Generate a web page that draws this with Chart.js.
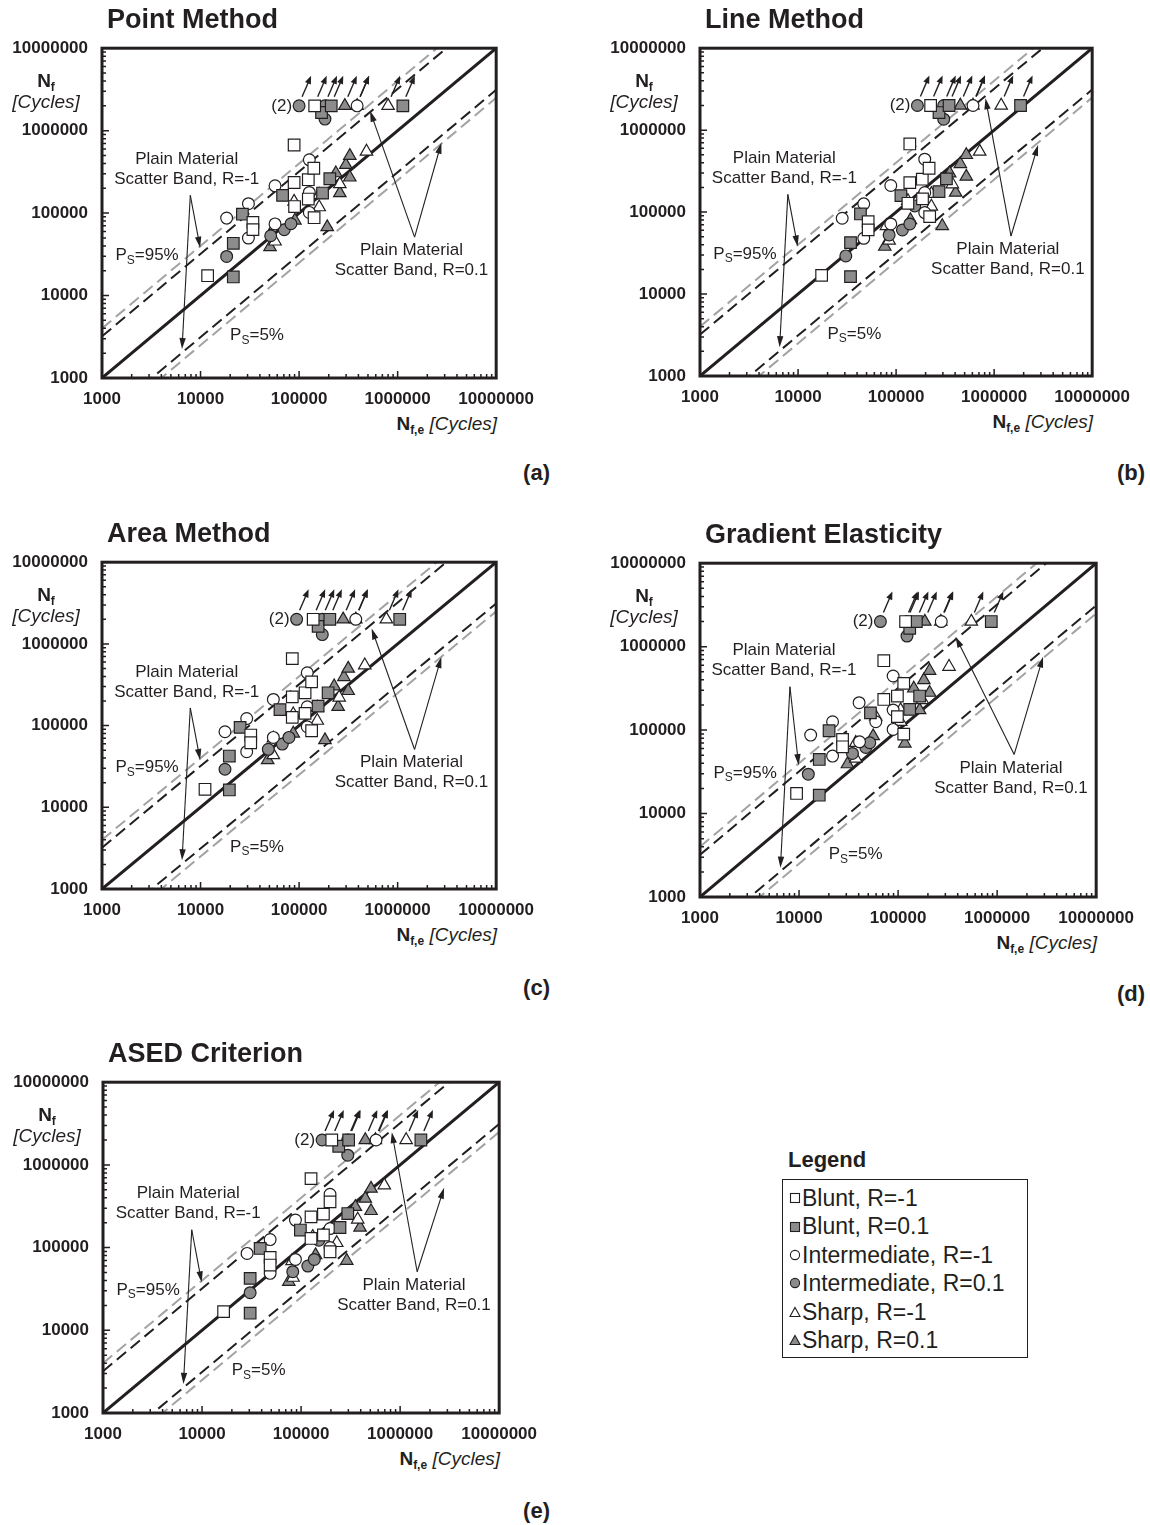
<!DOCTYPE html>
<html lang="en">
<head>
<meta charset="UTF-8">
<title>Estimated vs experimental fatigue life</title>
<script src="https://cdn.jsdelivr.net/npm/chart.js"></script>
<style>
  body { margin: 0; background: #fff; font-family: Arial, "Liberation Sans", sans-serif; color: #231f20; }
  #page { position: relative; width: 1150px; height: 1525px; overflow: hidden; }
  canvas { position: absolute; }
  .ptitle { position: absolute; font-weight: bold; font-size: 27px; line-height: 27px; white-space: nowrap; }
  .ytitle { position: absolute; width: 100px; text-align: center; font-size: 19px; line-height: 21px; }
  .xtitle { position: absolute; width: 200px; text-align: right; font-size: 19px; line-height: 21px; }
  .ytitle b, .xtitle b { font-weight: bold; }
  .ytitle i, .xtitle i { font-style: italic; }
  sub { font-size: 12px; font-weight: bold; vertical-align: -4px; line-height: 0; }
  .tag { position: absolute; width: 60px; text-align: right; font-weight: bold; font-size: 22px; line-height: 22px; }
  #legendTitle { position: absolute; left: 788px; top: 1148px; font-weight: bold; font-size: 22px; line-height: 24px; }
  #legendBox { position: absolute; left: 782px; top: 1179px; width: 246px; height: 179px; border: 1.5px solid #231f20; padding-top: 4px; box-sizing: border-box; }
  .lrow { height: 28.4px; line-height: 28.4px; font-size: 23px; white-space: nowrap; display: flex; align-items: center; }
  .lrow svg { margin-left: 6px; margin-right: 1px; }
</style>
</head>
<body>
<div id="page"></div>

<script>
// ---- data: [estimated life N_f,e, experimental life N_f] ----
const RUNOUT_NF = 2000000;

// (a) Point Method
const pmBluntM1 = [[11800,17400],[34000,77000],[34000,63000],[89000,670000],[89000,235000],[124000,254000],[141000,350000],[124000,148000],[142000,88000],[90000,120000],[144000,2000000]];
const pmBluntP1 = [[26600,97000],[21500,43000],[21500,16800],[68000,164000],[205000,261000],[173000,175000],[169000,1660000],[212000,2000000],[1130000,2000000]];
const pmInterM1 = [[18400,87000],[30600,130000],[30600,49800],[57000,214000],[127000,443000],[127000,178000],[127000,102000],[57000,74000],[388000,2000000]];
const pmInterP1 = [[18400,29800],[51500,53100],[70700,62800],[82700,74300],[183000,1380000],[100000,2000000],[183000,2000000]];
const pmSharpM1 = [[57000,70000],[57000,45400],[89000,138000],[160000,118000],[160000,167000],[259000,225000],[483000,559000],[388000,2000000],[800000,2000000]];
const pmSharpP1 = [[50700,38700],[90700,81500],[193000,67600],[236000,305000],[259000,175000],[298000,385000],[327000,495000],[327000,271000],[291000,2000000]];

// (b) Line Method
const lmBluntM1 = [[17400,16900],[51900,76600],[51900,60600],[138000,679000],[138000,229000],[185000,252000],[217000,343000],[132000,128000],[186000,145000],[220000,88000],[225000,2000000]];
const lmBluntP1 = [[43300,94900],[34300,42400],[34300,16300],[112000,159000],[326000,254000],[274000,178000],[274000,1640000],[347000,2000000],[1860000,2000000]];
const lmInterM1 = [[28200,84100],[46800,126000],[46800,47900],[88300,211000],[196000,442000],[196000,173000],[196000,98600],[88300,71700],[609000,2000000]];
const lmInterP1 = [[30700,29200],[84900,52600],[116000,60600],[138000,71700],[155000,119000],[306000,1360000],[165000,2000000],[306000,2000000]];
const lmSharpM1 = [[79700,67800],[84900,44900],[132000,137000],[229000,117000],[229000,167000],[375000,219000],[712000,548000],[609000,2000000],[1180000,2000000]];
const lmSharpP1 = [[76700,37900],[140000,80200],[296000,67800],[352000,298000],[405000,173000],[452000,387000],[520000,499000],[520000,271000],[452000,2000000]];

// (c) Area Method
const amBluntM1 = [[11100,16600],[32300,76600],[32300,61700],[85300,661000],[85300,225000],[115000,252000],[134000,343000],[115000,141000],[134000,86500],[85300,126000],[139000,2000000]];
const amBluntP1 = [[25200,95000],[19600,42400],[19600,16300],[64000,157000],[197000,252000],[156000,173000],[156000,1640000],[205000,2000000],[1050000,2000000]];
const amInterM1 = [[17700,84100],[29400,122000],[29400,48000],[54800,209000],[121000,442000],[121000,170000],[121000,96800],[54800,71700],[376000,2000000]];
const amInterP1 = [[17700,29200],[48700,51200],[67600,59400],[78900,71700],[172000,1300000],[94400,2000000],[172000,2000000]];
const amSharpM1 = [[54800,69700],[54800,43600],[87300,138000],[153000,115000],[153000,167000],[255000,221000],[464000,548000],[376000,2000000],[769000,2000000]];
const amSharpP1 = [[48000,37900],[87300,80200],[183000,66500],[227000,303000],[249000,170000],[285000,394000],[315000,499000],[315000,266000],[280000,2000000]];

// (d) Gradient Elasticity
const geBluntM1 = [[9440,17400],[27500,77300],[27500,63100],[71700,679000],[71700,233000],[98400,256000],[114000,363000],[98400,145000],[114000,89500],[119000,2000000]];
const geBluntP1 = [[20100,98200],[16000,44500],[16000,16600],[52600,161000],[165000,256000],[131000,177000],[131000,1660000],[153000,2000000],[873000,2000000]];
const geInterM1 = [[13100,87100],[21800,126000],[21800,48800],[40400,213000],[89100,445000],[89100,174000],[89100,102000],[40800,72400],[59500,126000],[273000,2000000]];
const geInterP1 = [[12400,29600],[34600,52500],[47200,61900],[51800,70500],[123000,1340000],[66300,2000000],[123000,2000000]];
const geSharpM1 = [[37400,70500],[37400,45700],[59500,145000],[106000,126000],[106000,174000],[176000,229000],[327000,575000],[270000,2000000],[549000,2000000]];
const geSharpP1 = [[30800,39100],[56000,84700],[117000,69200],[144000,316000],[165000,174000],[182000,398000],[208000,515000],[208000,281000],[186000,2000000]];

// (e) ASED Criterion
const asBluntM1 = [[16500,16800],[48700,76100],[48700,61500],[126000,683000],[126000,235000],[168000,254000],[196000,357000],[168000,142000],[196000,89100],[126000,129000],[204000,2000000]];
const asBluntP1 = [[38600,97700],[30600,42500],[30600,16100],[98400,163000],[296000,258000],[247000,175000],[240000,1680000],[302000,2000000],[1620000,2000000]];
const asInterM1 = [[28500,85100],[48700,125000],[48700,48800],[87700,215000],[196000,442000],[196000,170000],[196000,100000],[87700,71900],[571000,2000000]];
const asInterP1 = [[30600,28500],[82400,51100],[117000,59800],[136000,71900],[151000,123000],[296000,1310000],[163000,2000000],[296000,2000000]];
const asSharpM1 = [[81000,68800],[83000,43300],[131000,135000],[229000,114000],[229000,166000],[373000,219000],[692000,567000],[563000,2000000],[1150000,2000000]];
const asSharpP1 = [[75100,38700],[140000,81200],[289000,69400],[353000,311000],[394000,175000],[445000,392000],[508000,517000],[508000,278000],[445000,2000000]];

const seriesNames = ['Blunt, R=-1', 'Blunt, R=0.1', 'Intermediate, R=-1', 'Intermediate, R=0.1', 'Sharp, R=-1', 'Sharp, R=0.1'];
const decadeTicks = [1000, 10000, 100000, 1000000, 10000000];
// N_f = ratio * N_f,e : 1:1 line, plain material bands (R=-1 black, R=0.1 grey)
const bandRatios = [1, 3.2, 1 / 3.2, 4, 1 / 4];

// ---- styles ----
const INK = '#231f20';
const GREY = '#8c8c8c';
const FONT = 'Arial, "Liberation Sans", sans-serif';
const seriesStyle = [
  { shape: 'rect', fill: '#ffffff', r: 8.2 },
  { shape: 'rect', fill: GREY, r: 8.2 },
  { shape: 'circle', fill: '#ffffff', r: 5.9 },
  { shape: 'circle', fill: GREY, r: 5.9 },
  { shape: 'triangle', fill: '#ffffff', r: 7.2 },
  { shape: 'triangle', fill: GREY, r: 7.2 }
];
const bandStyle = [
  { color: INK, width: 3, dash: [] },
  { color: INK, width: 2, dash: [12, 6] },
  { color: INK, width: 2, dash: [12, 6] },
  { color: '#a3a3a3', width: 2, dash: [12, 6] },
  { color: '#a3a3a3', width: 2, dash: [12, 6] }
];

// note positions as fractions of the plot area
const baseNotes = { lab1: [0.215, 0.336], org1: [0.224, 0.446], tip1: [[0.249, 0.605], [0.203, 0.912]],
  lab2: [0.785, 0.613], org2: [0.793, 0.573], tip2: [[0.68, 0.19], [0.861, 0.287]], p95: [0.034, 0.628], p5: [0.325, 0.872] };

const panels = [
  { title: 'Point Method', L: 102, T: 48, W: 395, H: 330, tag: '(a)', tagR: 550, tagY: 473,
    series: [pmBluntM1, pmBluntP1, pmInterM1, pmInterP1, pmSharpM1, pmSharpP1], notes: {} },
  { title: 'Line Method', L: 700, T: 48, W: 393, H: 328, tag: '(b)', tagR: 1145, tagY: 473,
    series: [lmBluntM1, lmBluntP1, lmInterM1, lmInterP1, lmSharpM1, lmSharpP1], notes: { tip2: [[0.728, 0.153], [0.862, 0.295]] } },
  { title: 'Area Method', L: 102, T: 562, W: 395, H: 327, tag: '(c)', tagR: 550, tagY: 988,
    series: [amBluntM1, amBluntP1, amInterM1, amInterP1, amSharpM1, amSharpP1], notes: { tip2: [[0.684, 0.203], [0.861, 0.29]] } },
  { title: 'Gradient Elasticity', L: 700, T: 563, W: 397, H: 334, tag: '(d)', tagR: 1145, tagY: 994,
    series: [geBluntM1, geBluntP1, geInterM1, geInterP1, geSharpM1, geSharpP1],
    notes: { lab1: [0.212, 0.262], org1: [0.227, 0.37], tip2: [[0.645, 0.22], [0.866, 0.28]] } },
  { title: 'ASED Criterion', L: 103, T: 1082, W: 397, H: 331, tag: '(e)', tagR: 550, tagY: 1511,
    series: [asBluntM1, asBluntP1, asInterM1, asInterP1, asSharpM1, asSharpP1], notes: { tip2: [[0.729, 0.151], [0.861, 0.319]] } }
];

function arrow(ctx, x0, y0, x1, y1, len, half) {
  const a = Math.atan2(y1 - y0, x1 - x0);
  const c = Math.cos(a), s = Math.sin(a);
  ctx.beginPath();
  ctx.moveTo(x0, y0);
  ctx.lineTo(x1 - c * len * 0.7, y1 - s * len * 0.7);
  ctx.stroke();
  ctx.beginPath();
  ctx.moveTo(x1, y1);
  ctx.lineTo(x1 - c * len + s * half, y1 - s * len - c * half);
  ctx.lineTo(x1 - c * len - s * half, y1 - s * len + c * half);
  ctx.closePath();
  ctx.fill();
}

function subText(ctx, x, y, main, sub, rest, size) {
  ctx.font = size + 'px ' + FONT;
  ctx.fillText(main, x, y);
  x += ctx.measureText(main).width;
  ctx.font = Math.round(size * 0.7) + 'px ' + FONT;
  ctx.fillText(sub, x, y + 5);
  x += ctx.measureText(sub).width;
  ctx.font = size + 'px ' + FONT;
  ctx.fillText(rest, x, y);
}

// frame, inside ticks, runout arrows and the scatter band notes
const decorPlugin = {
  id: 'decor',
  afterDatasetsDraw(chart) {
    const { ctx, chartArea: a, scales: { x, y } } = chart;
    const n = Object.assign({}, baseNotes, chart.options.notes);
    const fx = f => a.left + f * (a.right - a.left);
    const fy = f => a.top + f * (a.bottom - a.top);
    ctx.save();
    ctx.strokeStyle = INK;
    ctx.fillStyle = INK;

    // inside minor/major ticks on left and bottom axes
    ctx.lineWidth = 1.5;
    for (let k = 0; k < decadeTicks.length - 1; k++) {
      for (let m = 1; m <= 9; m++) {
        const v = decadeTicks[k] * m;
        const len = m === 1 ? 7 : 4;
        const py = y.getPixelForValue(v), px = x.getPixelForValue(v);
        ctx.beginPath();
        ctx.moveTo(a.left, py); ctx.lineTo(a.left + len, py);
        ctx.moveTo(px, a.bottom); ctx.lineTo(px, a.bottom - len);
        ctx.stroke();
      }
    }

    // run-out arrows
    ctx.lineWidth = 1.4;
    let twin = null;
    chart.data.datasets.forEach(ds => {
      if (ds.seriesIndex === undefined) return;
      ds.data.forEach(p => {
        if (p.y !== RUNOUT_NF) return;
        const px = x.getPixelForValue(p.x), py = y.getPixelForValue(p.y);
        arrow(ctx, px + 3, py - 9, px + 12, py - 30, 8, 3.2);
        if (ds.seriesIndex === 3 && (!twin || p.x < twin.x)) twin = { x: p.x, px, py };
      });
    });
    ctx.textBaseline = 'middle';
    if (twin) {
      ctx.font = '17px ' + FONT;
      ctx.textAlign = 'right';
      ctx.fillText('(2)', twin.px - 7, twin.py);
    }

    // scatter band notes
    ctx.lineWidth = 1.1;
    ctx.textAlign = 'center';
    ctx.font = '17px ' + FONT;
    ctx.fillText('Plain Material', fx(n.lab1[0]), fy(n.lab1[1]));
    ctx.fillText('Scatter Band, R=-1', fx(n.lab1[0]), fy(n.lab1[1]) + 20);
    ctx.fillText('Plain Material', fx(n.lab2[0]), fy(n.lab2[1]));
    ctx.fillText('Scatter Band, R=0.1', fx(n.lab2[0]), fy(n.lab2[1]) + 20);
    n.tip1.forEach(t => arrow(ctx, fx(n.org1[0]), fy(n.org1[1]), fx(t[0]), fy(t[1]), 11, 3.2));
    n.tip2.forEach(t => arrow(ctx, fx(n.org2[0]), fy(n.org2[1]), fx(t[0]), fy(t[1]), 11, 3.2));
    ctx.textAlign = 'left';
    subText(ctx, fx(n.p95[0]), fy(n.p95[1]), 'P', 'S', '=95%', 17);
    subText(ctx, fx(n.p5[0]), fy(n.p5[1]), 'P', 'S', '=5%', 17);

    // frame
    ctx.lineWidth = 3;
    ctx.strokeRect(a.left, a.top, a.right - a.left, a.bottom - a.top);
    ctx.restore();
  }
};

function axisOptions(isY) {
  return {
    type: 'logarithmic',
    min: decadeTicks[0],
    max: decadeTicks[decadeTicks.length - 1],
    afterBuildTicks: s => { s.ticks = decadeTicks.map(v => ({ value: v })); },
    afterFit: s => { if (isY) s.width = 100; else s.height = 32; },
    grid: { display: false, drawTicks: false },
    border: { display: false },
    ticks: {
      autoSkip: false, maxRotation: 0,
      padding: isY ? 14 : 11,
      color: INK,
      font: { family: FONT, size: 17, weight: 'bold' },
      callback: v => String(v)
    }
  };
}

function chartConfig(p) {
  const markerSets = p.series.map((pairs, i) => ({
    label: seriesNames[i],
    seriesIndex: i,
    data: pairs.map(([nfe, nf]) => ({ x: nfe, y: nf })),
    pointStyle: seriesStyle[i].shape,
    pointRadius: seriesStyle[i].r,
    backgroundColor: seriesStyle[i].fill,
    borderColor: INK,
    borderWidth: 1.2,
    showLine: false,
    order: 0
  }));
  const bandSets = bandRatios.map((k, i) => ({
    label: 'band ' + i,
    data: [decadeTicks[0], decadeTicks[decadeTicks.length - 1]].map(v => ({ x: v, y: k * v })),
    showLine: true,
    pointRadius: 0,
    borderColor: bandStyle[i].color,
    borderWidth: bandStyle[i].width,
    borderDash: bandStyle[i].dash,
    order: 1
  }));
  return {
    type: 'scatter',
    data: { datasets: markerSets.concat(bandSets) },
    options: {
      responsive: false,
      animation: false,
      events: [],
      notes: p.notes,
      layout: { padding: 2 },
      plugins: { legend: { display: false }, tooltip: { enabled: false } },
      scales: { x: axisOptions(false), y: axisOptions(true) }
    },
    plugins: [decorPlugin]
  };
}

const page = document.getElementById('page');

function addDiv(cls, html, left, top) {
  const d = document.createElement('div');
  d.className = cls;
  d.innerHTML = html;
  d.style.left = left + 'px';
  d.style.top = top + 'px';
  page.appendChild(d);
  return d;
}

function makeCanvas(w, h) {
  const cv = document.createElement('canvas');
  cv.width = w;
  cv.height = h;
  page.appendChild(cv);
  return cv;
}

panels.forEach(p => {
  // first pass: measure the space the axes take, then size the canvas so the plot area is W x H
  let w0 = 100 + p.W + 60, h0 = 30 + p.H + 40;
  let cv = makeCanvas(w0, h0);
  let chart = new Chart(cv, chartConfig(p));
  let a = chart.chartArea;
  const w1 = w0 + (p.W - (a.right - a.left));
  const h1 = h0 + (p.H - (a.bottom - a.top));
  chart.destroy();
  cv.remove();

  cv = makeCanvas(w1, h1);
  chart = new Chart(cv, chartConfig(p));
  a = chart.chartArea;
  cv.style.left = (p.L - a.left) + 'px';
  cv.style.top = (p.T - a.top) + 'px';

  addDiv('ptitle', p.title, p.L + 5, p.T - 42);
  addDiv('ytitle', '<b>N<sub>f</sub></b><br><i>[Cycles]</i>', p.L - 106, p.T + 22);
  addDiv('xtitle', '<b>N<sub>f,e</sub></b> <i>[Cycles]</i>', p.L + p.W - 200, p.T + p.H + 35);
  addDiv('tag', p.tag, p.tagR - 60, p.tagY - 11);
});

// legend
const lt = document.createElement('div');
lt.id = 'legendTitle';
lt.textContent = 'Legend';
page.appendChild(lt);
const box = document.createElement('div');
box.id = 'legendBox';
page.appendChild(box);
seriesNames.forEach((name, i) => {
  const st = seriesStyle[i];
  let shape;
  if (st.shape === 'rect') shape = '<rect x="1.5" y="1.5" width="9" height="9" fill="' + st.fill + '" stroke="' + INK + '" stroke-width="1.1"/>';
  else if (st.shape === 'circle') shape = '<circle cx="6" cy="6" r="4.6" fill="' + st.fill + '" stroke="' + INK + '" stroke-width="1.1"/>';
  else shape = '<polygon points="6,1.5 11,10.5 1,10.5" fill="' + st.fill + '" stroke="' + INK + '" stroke-width="1.1"/>';
  const row = document.createElement('div');
  row.className = 'lrow';
  row.innerHTML = '<svg width="12" height="12" viewBox="0 0 12 12">' + shape + '</svg><span>' + name + '</span>';
  box.appendChild(row);
});
</script>
</body>
</html>
